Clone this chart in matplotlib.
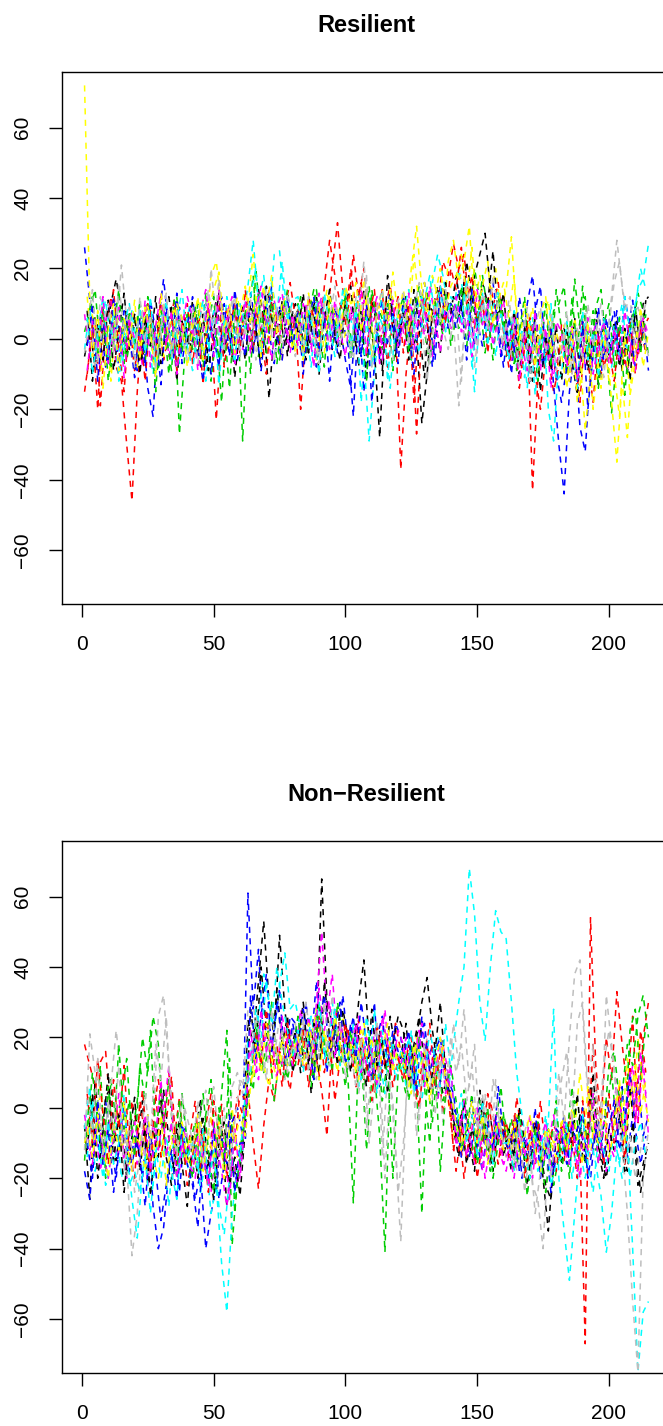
import numpy as np
import matplotlib
matplotlib.use("Agg")
import matplotlib.pyplot as plt

plt.rcParams['font.family'] = ['Liberation Sans', 'DejaVu Sans']

# odd time steps (1, 3, ..., 215) for the first 8 columns,
# even time steps (2, 4, ..., 214) for the next 8
t_a = np.arange(1, 216, 2)
t_b = np.arange(2, 215, 2)

# R palette 1:8
cols = ['#000000', '#FF0000', '#00CD00', '#0000FF',
        '#00FFFF', '#FF00FF', '#FFFF00', '#BEBEBE']

# ---- Resilient, columns 1-8 ----
res_black = [-5, 3, -8, 6, -2, 10, 17, 8, -4, 2,
             5, -6, 9, 3, -2, 7, 12, 1, -4, 6,
             -3, 8, 2, -7, 4, 11, -1, 6, -5, 3,
             9, 2, -4, 14, 6, -17, 3, 8, -2, 5,
             10, 4, -6, 7, 12, 2, 8, -3, 6, 11,
             4, 9, -8, 14, 5, -3, -28, 2, 10, -5,
             6, 12, -4, 1, -24, -10, 8, 15, 3, 9,
             12, 6, 16, 9, 18, 24, 30, 14, 5, 10,
             2, -6, 8, -3, 4, -12, 1, -7, 5, -2,
             -8, 3, -5, 6, -10, 2, -4, 8, -7, 1,
             -3, 5, -9, 2, 7, -1, 10, 12]
res_red = [-15, -4, 6, -19, 3, 12, -8, -12, -30, -46,
           -15, 5, 10, -3, 7, -6, 2, 11, -2, 6,
           3, -4, 8, -1, 4, -23, 2, 9, -5, 6,
           1, 7, -3, 12, 5, 14, 4, -2, 9, 16,
           6, -20, 3, 8, 1, 10, 5, 20, 33, 14,
           8, 24, 12, 20, 6, 14, -3, 9, 15, 4,
           -37, -10, 6, -27, 3, 12, 5, 9, 22, 18,
           27, 20, 24, 10, 3, 12, 6, 15, 8, -2,
           4, -6, 2, -9, 5, -43, -12, 3, -5, -15,
           -8, 2, -12, -4, -18, 3, -7, -1, -10, -3,
           -6, 4, -2, -9, 1, -5, 3, 6]
res_green = [2, 8, 14, -3, 6, -8, 4, 10, -6, 3,
             7, -4, 12, 2, -9, 5, -10, 11, -27, -5,
             4, 9, -6, 13, -12, 2, -18, 6, -4, 10,
             -29, 5, 18, -5, 8, 2, 11, -6, 4, 9,
             3, 12, -4, 7, 14, 1, 9, -2, 6, 11,
             5, -3, 10, 2, 15, -6, 8, 3, 12, -2,
             7, 2, -6, 10, 4, 13, -3, 8, 1, 11,
             9, 3, 14, 6, 20, 11, -4, 8, 2, 12,
             -5, 3, -9, 6, -2, 4, -12, 2, -6, 8,
             10, 15, -4, 17, 3, 12, -8, 9, 14, -3,
             -21, -6, 4, -10, 2, 13, 8, -5]
res_blue = [26, 11, -2, 6, -8, 3, 10, -5, 7, 1,
            -9, 4, -14, -22, 5, 17, 3, -6, 9, 2,
            -5, 6, -2, 10, -10, 4, 12, -3, 7, -6,
            3, 11, -4, 8, 14, 2, -7, 9, 5, -1,
            6, -3, 9, 4, -8, 10, 2, 7, -4, 5,
            -2, -22, 8, -15, 3, 10, -6, 4, 14, -3,
            5, 9, -4, 12, 2, 6, -8, 10, 15, 3,
            8, 14, 4, 10, -2, 6, 12, 1, 9, -5,
            3, -10, 6, -4, 10, 18, 2, -8, 4, -13,
            -30, -44, -15, -3, -25, -32, -8, 2, -11, 6,
            -4, 8, -6, 1, 11, -3, 5, -9]
res_cyan = [-3, 9, -6, 4, 11, -1, 6, -9, 3, 8,
            -5, 6, 1, -10, 4, 9, -2, 7, -7, 2,
            10, -4, 5, -12, 3, 8, -6, 12, 4, -2,
            6, 15, 28, 10, 18, 4, 24, 25, 9, 2,
            -2, 7, 3, -8, 11, 5, -4, 9, 2, 14,
            8, 3, 13, -5, -29, -10, 6, 2, -14, 4,
            10, 4, -6, 8, 12, 3, 16, 24, 18, 9,
            6, 20, 12, 4, -15, 8, 3, 11, -5, 7,
            -2, 5, -8, 3, -14, 6, -4, 8, -20, -29,
            -6, 2, -10, 4, -3, 7, -12, 1, -5, 3,
            -8, 2, 10, -4, 6, 14, 17, 27]
res_magenta = [7, -4, 2, -9, 5, 11, -6, 3, -2, 8,
               4, -8, 6, 1, -3, 9, -5, 2, 7, -1,
               5, -2, 8, 14, 3, 10, -4, 7, 12, 2,
               -3, 9, 4, 13, -2, 6, 11, 1, 8, -4,
               5, 1, 10, -3, 7, 12, 2, 9, -1, 6,
               3, 8, -4, 11, 2, 6, -7, 9, 4, 0,
               6, -2, 9, 3, 12, 4, -5, 8, 2, 10,
               4, 9, 1, 7, -3, 11, 5, 2, 8, -4,
               1, -6, 4, -2, -9, 3, -5, 6, -3, -10,
               -4, 2, -7, -1, 4, -8, -3, 5, -6, 1,
               -7, 3, -2, -9, 2, -4, 6, 1]
res_yellow = [72, 10, 3, -7, 5, -12, 8, -3, 6, 1,
              -8, 4, 10, -2, 6, -5, 2, 9, -4, 3,
              7, -3, 11, 2, 18, 22, 8, -2, 5, 12,
              4, 10, 24, 6, 15, -3, 8, 2, 12, 5,
              -4, 8, 2, 11, -6, 5, 14, 3, 9, -2,
              6, 12, 3, 17, 8, -2, 10, 4, 14, 9,
              11, 5, 20, 32, 14, 7, 18, 12, 4, 22,
              28, 16, 22, 32, 10, 18, 6, 12, 20, 8,
              14, 29, 5, -6, 2, 9, -4, 6, 11, -2,
              -8, 4, -12, 6, -5, -26, -10, 2, -14, 3,
              -18, -35, -12, -28, -5, 4, -8, 2]
res_gray = [-4, 6, -9, 12, 3, 8, 2, 21, 5, -6,
            2, 8, -3, 5, -7, 10, 1, -4, 7, 3,
            -6, 4, 9, -2, 20, 6, -5, 3, 11, -1,
            7, -3, 5, 12, 1, 8, -6, 4, 10, 2,
            -5, 3, 8, -1, 6, 11, -3, 7, 2, 9,
            4, -6, 7, 22, 3, 9, -2, 6, 12, 1,
            8, 2, -5, 9, 4, -12, 6, 11, 3, -3,
            5, -19, 2, 9, -8, 6, 12, 3, 8, -2,
            4, -5, 7, -2, 9, 1, -7, 5, -3, 6,
            -6, 2, -9, 4, -3, 8, -5, 1, 10, -2,
            12, 28, 15, 6, -2, 9, 3, -5]

# ---- Resilient, columns 9-16 ----
res_black2 = [8, -12, 4, -6, 11, -9, 2, 13, -3, 7,
              -10, 6, -2, 12, -7, 3, 9, -12, 5, -1,
              11, -5, 7, -9, 2, 13, -4, 8, -11, 4,
              -6, 10, 3, -8, 15, 6, -2, 11, -5, 8,
              2, 13, -4, 9, -10, 6, 14, 1, -6, 10,
              15, -2, 8, -12, 11, 4, -9, 18, 6, -3,
              9, -6, 14, 3, -11, 10, 5, -4, 16, 7,
              18, 8, 22, 12, 4, 16, 10, 25, 6, 13,
              -4, 8, -10, 3, -7, 6, -15, 1, -9, 4,
              -12, 2, -6, -16, 4, -9, 1, -13, 6, -5,
              5, -8, 3, -12, 9, -3, 11]
res_red2 = [-10, 4, -20, 9, -6, 14, -3, -15, 6, -9,
            3, -12, 8, -5, 12, -2, 7, -9, 4, 10,
            -7, 5, -13, 9, -2, 12, -8, 3, 10, -4,
            14, -3, 8, 2, -10, 11, 5, -6, 13, 3,
            9, -4, 12, 6, -2, 15, 28, 18, 10, 4,
            20, 8, 16, -5, 11, 3, 14, -8, 6, 12,
            -4, 10, -18, 6, 12, -2, 9, 15, 4, 20,
            14, 26, 10, 18, 5, 12, -4, 9, 16, 2,
            -8, 3, -14, -2, 6, -10, -20, -5, 2, -12,
            4, -9, -2, -14, 6, -6, -18, 1, -8, -3,
            -12, 2, -7, 5, -10, 3, -4]
res_green2 = [5, 12, -4, 9, -12, 3, 14, -7, 8, -2,
              11, -6, 4, -15, 8, 1, -9, 12, -4, 7,
              -3, 10, -8, 5, 12, -6, 3, -14, 9, 2,
              8, -10, 20, 4, -4, 12, -7, 6, 14, -2,
              10, -3, 7, 14, 2, -8, 11, 5, -2, 13,
              -6, 9, 3, -12, 14, 5, -3, 10, -9, 7,
              12, -4, 8, 15, 2, -7, 11, 4, 13, -2,
              6, 15, -2, 10, 4, 18, 8, -6, 12, 3,
              8, -7, 2, 12, -12, 5, -3, 10, -8, 14,
              3, -10, 12, -4, 15, -6, 8, -14, 4, 10,
              -8, 6, -16, 3, 9, -4, 7]
res_blue2 = [-2, 10, -12, 5, -6, 12, -9, 8, 2, -11,
             6, -8, 11, 2, -13, 9, -4, 13, -7, 4,
             12, -3, -12, 6, 1, -8, 10, -5, 14, 3,
             -5, 13, 4, -9, 7, 15, 1, -6, 12, -3,
             8, -10, 5, 12, -4, 7, -12, 9, 3, -6,
             -14, 6, -5, 10, -18, 4, 11, -2, 8, -7,
             12, 2, -10, 8, 16, 4, -6, 14, 7, 10,
             3, 11, -6, 14, 5, -2, 9, 16, 4, -8,
             6, -4, 12, 2, -12, 8, 15, -6, 3, -10,
             -18, -8, 2, -12, 5, -20, -4, 9, -6, 2,
             8, -5, 12, 3, -8, 6, -3]
res_cyan2 = [6, -10, 2, 12, -5, 8, -12, 4, 10, -3,
             9, -4, 12, -8, 3, 11, -6, 5, 14, -2,
             -9, 4, 11, -3, 8, -13, 6, 2, -7, 10,
             3, 12, 20, -4, 9, 16, 7, 22, 5, 11,
             12, -6, 8, 2, -10, 13, 4, -5, 9, 15,
             -3, 10, -18, 6, -8, 4, 13, -12, 7, 2,
             8, 14, 3, -4, 11, 18, 6, 15, 2, 12,
             10, 4, 17, -8, 6, 13, -2, 9, 14, 3,
             -6, 8, 2, -11, 5, -16, 4, -8, 10, -12,
             -10, 5, -3, -14, 8, -6, 2, -11, 6, -4,
             4, -6, 12, 2, 9, 20, 14]
res_magenta2 = [-9, 5, -3, 12, -7, 2, 9, -11, 6, 0,
                -4, 11, -8, 4, 13, -2, 8, -10, 3, 12,
                6, -9, 2, 10, -5, 14, -2, 9, -7, 4,
                11, -4, 8, 15, 3, -6, 9, 13, -1, 7,
                -2, 10, 4, -8, 13, 6, -3, 11, 2, -5,
                9, 2, 14, -4, 7, 12, -6, 5, 11, -2,
                4, 13, -3, 8, 1, 15, 6, -4, 10, 3,
                12, 2, 8, -5, 14, 4, 10, -2, 6, 11,
                -3, 6, -12, 2, -6, 8, -9, 3, -14, 5,
                2, -8, 4, -12, -3, 6, -10, -1, 5, -7,
                3, -6, 8, -2, -9, 5, 2]
res_yellow2 = [12, -5, 8, -14, 3, 10, -9, 6, -2, 11,
               -6, 9, 2, -11, 13, 4, -3, 10, 6, -8,
               3, 12, -6, 8, 14, 19, 2, 10, -4, 7,
               15, 4, 12, -5, 9, 18, 1, 10, 6, -3,
               6, -6, 13, 3, 9, -4, 12, 7, 1, 15,
               10, 16, 2, 12, -5, 8, 14, 3, 19, 6,
               14, 2, 24, 9, 16, 5, 12, 20, 8, 15,
               18, 24, 12, 26, 8, 15, 22, 4, 11, 16,
               6, 18, -2, 10, 3, -8, 7, 12, -4, 2,
               -4, -14, 3, -18, -8, 5, -20, -6, 2, -12,
               -10, -22, 2, -16, -6, 9, -3]
res_gray2 = [3, 14, -7, 5, 10, -4, 16, 2, 9, -8,
             12, -2, 7, -9, 4, 13, -5, 8, 1, -6,
             9, -7, 5, 14, 2, 17, -3, 7, 12, -5,
             4, 11, -6, 8, 14, 2, 9, -4, 13, 6,
             8, -4, 12, 3, -7, 10, 5, 15, -2, 9,
             -5, 12, 6, 18, -8, 9, 14, 2, -6, 11,
             13, -2, 8, 16, 4, -7, 10, 5, 14, 1,
             9, -12, 15, 6, -4, 12, 3, 18, 8, -3,
             11, 2, -8, 6, -12, 4, 9, -4, 7, -9,
             -3, 8, -10, 3, -6, 10, -2, 6, -11, 4,
             16, 22, 8, 12, -4, 5, 10]

# ---- Non-Resilient, columns 1-8 ----
non_black = [-5, -26, 8, -12, 3, 6, -15, -4, -20, -8,
             -11, 2, -22, -6, -14, 5, -9, -18, -3, -12,
             -16, -7, 2, -20, -10, -24, -5, -28, -14, -22,
             -12, 25, 18, 36, 53, 30, 20, 49, 28, 15,
             22, 10, 25, 4, 18, 65, 30, 24, 12, 28,
             20, 15, 30, 42, 18, 8, 22, 12, 26, 16,
             14, 24, 8, 20, 30, 37, 22, 12, 4, 10,
             -6, -14, 2, -10, -18, 5, -8, -3, -12, -2,
             -10, -18, -4, -8, -22, -13, -5, -20, -35, -15,
             -12, -6, -4, -10, -2, -16, 6, -8, -14, -20,
             -8, 3, -12, -18, -4, -22, -16, -10]
non_red = [18, 12, 6, 13, 16, -3, -8, 4, -14, 2,
           -6, 5, -12, -2, 8, -4, 10, -9, 3, -15,
           -8, 2, -18, -5, 4, -12, 1, -20, -7, 3,
           -2, 5, -10, -23, -5, 8, 2, 16, 12, 5,
           18, 25, 10, 22, 14, 5, -8, 20, 28, 15,
           22, 12, 25, 8, 18, 4, 20, 14, 10, 24,
           16, 8, 20, 2, 12, 18, 6, 14, -2, 8,
           -12, -4, -20, -8, -15, -2, -10, 2, -6, -14,
           -4, -12, 3, -8, -16, -6, -2, -14, -10, -5,
           -8, -15, -2, -10, -12, -67, 54, 12, -4, 20,
           8, 33, 18, 5, 26, -5, 20, 30]
non_green = [-15, 5, -10, 12, -20, 8, -4, 3, 14, -8,
             2, 20, 10, 26, 18, -6, 8, -12, 2, -16,
             -10, -4, -18, -2, 8, -14, 4, 22, -39, -20,
             -10, 12, 5, 24, 10, 18, 2, 15, 8, 22,
             12, 25, 18, 6, 28, 15, 22, 10, 30, 20,
             8, -27, 15, 5, 20, 10, -8, -41, 12, 18,
             10, 4, 18, 6, -30, 8, -4, 12, 2, 8,
             -2, -10, 5, -6, -14, 2, -8, -18, -4, 6,
             -10, -3, -16, -8, -25, -12, -4, -18, -6, -22,
             -14, -6, -20, 2, -10, -16, -4, -12, -8, -2,
             10, -6, 4, 18, 12, 26, 32, 20]
non_blue = [-18, -26, -6, -14, 2, -10, -20, -4, -12, -16,
            -8, -20, -2, -28, -40, -34, -18, -10, -24, -6,
            -14, -26, -18, -40, -30, -22, -8, -16, -4, 0,
            -8, 61, 28, 45, 18, 30, 22, 34, 12, 26,
            24, 14, 30, 18, 36, 22, 10, 26, 16, 32,
            18, 26, 10, 22, 14, 30, 6, 20, 12, 24,
            20, 10, 16, 4, 26, 12, 18, 2, 14, 8,
            4, -8, -2, -14, -6, 0, -12, -16, -4, -10,
            -6, -14, -2, -20, -10, -16, -4, -12, -8, -18,
            -10, -2, -16, -8, -4, -14, -20, -6, -12, 2,
            -4, -10, 6, -14, -2, 8, -8, -2]
non_cyan = [-6, 6, -18, -10, -22, -14, -4, -20, -12, -26,
            -37, -18, -10, -22, -6, -14, -28, -8, -16, -12,
            -20, -8, -24, -14, -30, -22, -44, -58, -30, -16,
            -14, 20, 14, 26, 38, 30, 22, 35, 44, 28,
            30, 22, 14, 26, 18, 24, 12, 30, 20, 16,
            12, 24, 6, 18, 10, 28, 14, 4, 20, 8,
            16, 6, 22, 10, 2, 14, 8, 20, 12, 4,
            18, 30, 40, 68, 55, 30, 19, 40, 56, 50,
            48, 30, 10, -2, -12, -6, -18, -10, -4, 28,
            -20, -35, -49, -30, -12, -20, -8, -16, -25, -41,
            -30, -12, -20, -8, -40, -75, -58, -55]
non_magenta = [-2, -12, -6, -18, -8, -3, -14, -10, -20, -5,
               -16, -8, -22, -4, -12, -2, 12, -10, -18, -6,
               -12, -20, -6, -16, -24, -10, -18, -28, -14, -22,
               -8, 12, 18, 8, 24, 14, 20, 10, 16, 22,
               14, 28, 20, 10, 30, 50, 26, 38, 18, 24,
               20, 12, 26, 16, 8, 22, 14, 28, 10, 18,
               12, 20, 6, 16, 24, 8, 14, 2, 18, 10,
               -4, -12, 2, -8, -16, -6, -20, -10, -2, -14,
               -18, -8, -14, -4, -12, -20, -6, -16, -10, -2,
               -12, -4, -16, -8, -20, -6, -14, -2, -10, -18,
               -6, 8, -10, 4, 12, -4, 14, -8]
non_yellow = [-10, -4, -14, 6, -8, -16, 2, -12, -6, -18,
              -4, -12, -2, -14, -20, -8, -16, -6, -10, -14,
              -8, -16, -4, -12, -2, -18, -6, -10, 0, -14,
              -6, 14, 8, 20, 12, 6, 18, 10, 22, 14,
              16, 24, 12, 20, 28, 14, 22, 18, 10, 26,
              14, 20, 8, 24, 16, 10, 18, 22, 12, 16,
              10, 16, 4, 20, 12, 6, 14, 8, 18, 2,
              -8, -2, -12, -6, 0, -10, -4, -14, -8, -2,
              -6, -12, -2, -10, -16, -4, -8, -14, -6, -10,
              -8, -2, -12, -6, 10, -4, -14, 2, -8, -10,
              -12, 4, -6, 14, -2, 20, 6, -4]
non_gray = [-12, 21, 10, -4, -10, 6, 22, 8, -16, -42,
            -30, -8, -20, -6, 26, 32, 12, -4, -12, 0,
            -6, -14, -2, 5, -10, -20, -4, -12, 6, 10,
            4, 28, 30, 16, 10, 22, 14, 26, 8, 18,
            24, 12, 30, 18, 8, 26, 16, 32, 20, 14,
            10, 22, 4, 14, -10, 6, 12, -20, 8, -12,
            -38, 2, 16, -8, 10, 20, 4, 14, -4, 8,
            24, 12, 28, 6, 18, -10, 4, -16, 8, -8,
            -14, -6, -18, -10, -4, -22, -26, -40, -12, -8,
            10, -4, 20, 38, 42, 14, -6, 8, -10, 32,
            18, 4, -10, -30, -55, -75, -20, -6]

# ---- Non-Resilient, columns 9-16 ----
non_black2 = [-12, 4, -20, -6, 10, -15, -2, -24, -8, 3,
              -18, -4, -25, -10, 2, -14, -22, -6, -16, -28,
              -8, -20, -3, -16, -26, -10, -4, -22, -14, -25,
              -6, 28, 16, 40, 22, 14, 34, 18, 26, 10,
              18, 30, 12, 24, 8, 36, 20, 14, 28, 22,
              10, 24, 16, 6, 28, 12, 20, 4, 18, 26,
              22, 8, 18, 26, 12, 4, 16, 30, 10, 2,
              -8, -2, -16, -6, -12, 2, -10, -18, -4, -14,
              -6, -14, 0, -10, -18, -4, -12, -22, -26, -8,
              -16, -4, -10, 4, -14, -8, 10, -12, -20, -6,
              -12, -2, -18, 6, -10, -24, -14]
non_red2 = [4, -10, 14, -2, -16, 8, -6, 12, -12, -20,
            2, -8, -18, 4, -14, -4, 9, -16, -6, -22,
            -14, -4, -10, -24, 2, -8, -16, -2, -12, 5,
            2, 6, 22, 12, 28, 10, 18, 6, 24, 14,
            12, 22, 6, 16, 26, 10, 20, 2, 14, 24,
            16, 6, 20, 12, 2, 24, 10, 18, 6, 14,
            8, 18, 12, 0, 14, 24, 6, 16, 10, -4,
            -18, -6, -14, -2, -20, -10, 4, -8, -16, -4,
            -14, -2, -10, -20, -6, -16, 2, -12, -8, -18,
            -4, -14, -8, -20, 2, -10, 18, -6, -16, 4,
            -10, 6, -16, 12, -4, 22, 10]
non_green2 = [-8, 10, -4, -16, 6, -10, 18, -6, 2, -14,
              12, 2, 22, -8, 6, -14, -4, -20, 4, -10,
              -20, -6, 4, -12, -24, 0, -16, 14, -30, -12,
              -2, 6, 24, 10, 18, 30, 12, 20, 8, 16,
              26, 14, 22, 8, 30, 18, 12, 24, 16, 6,
              22, 10, 16, -12, 8, 20, 2, 14, -20, 10,
              16, 2, 12, 20, 6, -10, 14, -18, 4, 12,
              2, -12, -6, 4, -16, -8, 0, -20, -10, -2,
              -8, -18, -2, -12, -20, -6, -14, -24, -10, 2,
              -18, -8, 6, -14, -2, -10, 4, -16, -6, 12,
              16, 2, -8, 22, 28, 8, 24]
non_blue2 = [-10, -20, 2, -16, -6, -24, -12, 2, -18, -8,
             -14, -28, -8, -18, -32, -22, -12, -26, -4, -16,
             -22, -34, -12, -20, -6, -26, -16, -2, -24, -10,
             -10, 32, 14, 26, 38, 16, 30, 20, 12, 24,
             16, 28, 20, 8, 24, 32, 14, 22, 30, 12,
             24, 14, 30, 18, 8, 20, 26, 12, 22, 16,
             14, 22, 6, 18, 24, 10, 16, 20, 8, 2,
             -2, -14, -6, 2, -10, -18, -4, -12, 6, -8,
             -12, -4, -18, -8, -14, 0, -20, -10, -24, -6,
             -8, -16, -4, -12, 0, -20, -10, -4, -14, -6,
             2, -12, -4, 10, -6, -16, -8]
non_cyan2 = [-14, 2, -8, -20, -4, -16, -10, 4, -22, -18,
             -24, -14, -30, -12, -20, -8, -18, -26, -6, -14,
             -10, -18, -6, -22, -12, -28, -36, -20, -8, -14,
             4, 10, 28, 20, 36, 24, 40, 30, 22, 14,
             22, 10, 26, 18, 30, 14, 20, 28, 12, 18,
             14, 20, 8, 26, 16, 4, 22, 12, 18, 10,
             12, 20, 4, 16, 8, 22, 14, 6, 24, 10,
             -6, 4, -10, -2, -14, 2, -8, -16, -4, -10,
             -10, -18, -4, -12, -20, -8, -14, -2, -22, -16,
             -14, -4, -20, -10, -2, -16, -24, -8, -12, -18,
             -6, -16, -2, -20, -10, -4, -14]
non_magenta2 = [-6, -16, -2, -12, -20, -8, 4, -14, -10, -4,
                -12, -2, -18, -8, 8, -14, -4, -20, -10, -16,
                -18, -8, -14, -22, -4, -16, -10, -26, -6, -20,
                -4, 22, 10, 28, 16, 20, 8, 26, 18, 12,
                20, 12, 26, 16, 34, 22, 30, 14, 24, 18,
                16, 24, 10, 20, 14, 6, 26, 18, 12, 22,
                18, 8, 14, 22, 6, 16, 10, 20, 4, 12,
                -10, -2, -14, -6, 0, -18, -8, -12, -4, -16,
                -12, -20, -6, -14, -2, -16, -10, -4, -18, -8,
                -6, -14, -2, -18, -8, -12, 4, -16, -4, -10,
                -14, 2, -8, 10, -4, 16, 4]
non_yellow2 = [-6, -14, -2, -10, -20, -4, -12, 2, -16, -8,
               -10, -18, -6, -14, -2, -22, -8, -12, -4, -16,
               -12, -2, -18, -8, -14, -4, -20, -6, -10, -2,
               -8, 6, 18, 10, 24, 14, 8, 20, 12, 16,
               20, 12, 24, 16, 8, 22, 14, 26, 18, 12,
               18, 10, 22, 14, 20, 8, 16, 24, 10, 18,
               14, 6, 18, 10, 16, 2, 12, 20, 8, 4,
               -4, -12, -6, 2, -10, -2, -16, -8, -4, -12,
               -10, -4, -14, -8, -2, -12, -18, -6, -10, -14,
               -4, -12, 0, -8, -16, 6, -6, -10, 2, -14,
               -6, 8, -10, 2, 12, -2, 8]
non_gray2 = [6, -8, 14, -14, 2, -6, 12, -18, -4, -24,
             -14, 4, -10, 18, 8, 26, -2, -14, 4, -8,
             -12, 2, -16, -6, 6, -10, 0, -18, -4, 8,
             6, 12, 26, 18, 8, 28, 14, 22, 10, 18,
             14, 26, 10, 22, 16, 30, 12, 20, 24, 8,
             16, 6, 20, -6, 12, 24, -14, 10, 2, -24,
             -10, 12, 4, -4, 18, 8, -2, 14, 6, 20,
             10, 18, 2, 12, -6, 4, -12, 8, -2, -10,
             -8, -16, -4, -24, -12, -30, -18, -8, -20, -4,
             8, 16, -4, 24, 30, 6, 18, -8, 12, 22,
             10, -6, -16, -8, -20, -12, -4]

resilient = [res_black, res_red, res_green, res_blue,
             res_cyan, res_magenta, res_yellow, res_gray,
             res_black2, res_red2, res_green2, res_blue2,
             res_cyan2, res_magenta2, res_yellow2, res_gray2]
non_resilient = [non_black, non_red, non_green, non_blue,
                 non_cyan, non_magenta, non_yellow, non_gray,
                 non_black2, non_red2, non_green2, non_blue2,
                 non_cyan2, non_magenta2, non_yellow2, non_gray2]

fig = plt.figure(figsize=(6.63, 14.26), dpi=100)
ax1 = fig.add_axes([0.0935, 0.5764, 0.9186, 0.3731])
ax2 = fig.add_axes([0.0935, 0.0372, 0.9186, 0.3731])

for ax, series, title in [(ax1, resilient, 'Resilient'),
                          (ax2, non_resilient, 'Non\u2212Resilient')]:
    for i, s in enumerate(series):
        t = t_a if i < 8 else t_b
        assert len(s) == len(t)
        ax.plot(t, s, color=cols[i % 8], lw=1.1, linestyle=(0, (4, 3.5)))
    ax.set_xlim(-7.56, 223.56)
    ax.set_ylim(-75.3, 75.8)
    ax.set_xticks([0, 50, 100, 150, 200])
    ax.set_yticks([-60, -40, -20, 0, 20, 40, 60])
    ax.tick_params(direction='out', length=9.4, width=1, labelsize=15,
                   top=False, right=False)
    ax.tick_params(axis='x', pad=13)
    ax.tick_params(axis='y', pad=12)
    for lab in ax.get_yticklabels():
        lab.set_rotation(90)
        lab.set_va('center')
    for sp in ax.spines.values():
        sp.set_linewidth(1.0)
    ax.set_title(title, fontsize=17, fontweight='bold', pad=29)

fig.savefig('out.png', dpi=100)
